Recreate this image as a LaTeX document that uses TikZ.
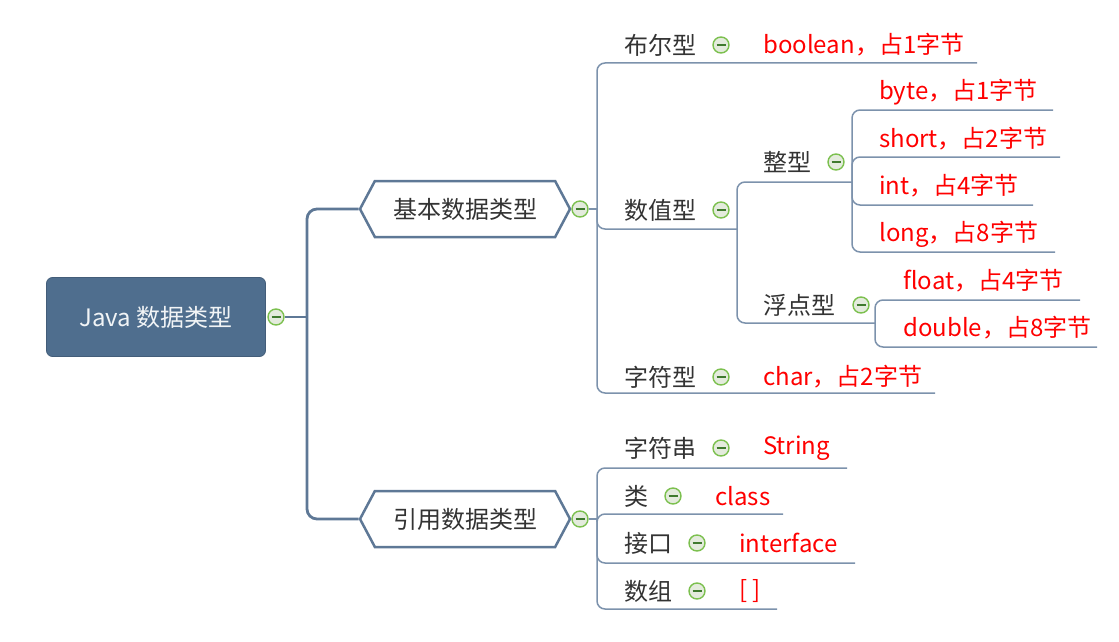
\documentclass[tikz,border=0pt]{standalone}
\usepackage{fontspec}
\setmainfont{Noto Sans CJK SC}
\usetikzlibrary{shapes.symbols}
\definecolor{rootblue}{HTML}{4F6E8E}
\definecolor{trunkblue}{HTML}{5E7896}
\definecolor{branchblue}{HTML}{7C92AC}
\definecolor{labelgray}{HTML}{333333}
\definecolor{foldgreen}{HTML}{7CC04F}
\definecolor{foldfill}{HTML}{E4EBDD}
\definecolor{foldminus}{HTML}{3F7A2E}
\tikzset{
  root/.style={rounded corners=6, fill=rootblue, draw=rootblue!85!black, line width=0.8,
    minimum width=219, minimum height=79, text=white!92!rootblue, font=\fontsize{24}{29}\selectfont},
  hexa/.style={signal, signal to=west and east, signal pointer angle=124, draw=trunkblue,
    line width=2.5, fill=white, minimum width=210, minimum height=56, inner xsep=0,
    text=labelgray, font=\fontsize{24}{29}\selectfont},
  topic/.style={anchor=west, inner sep=0, text=labelgray, font=\fontsize{24}{29}\selectfont},
  val/.style={topic, text=red},
  fold/.style={circle, draw=foldgreen, fill=foldfill, line width=1.4, minimum size=16, inner sep=0,
    path picture={\draw[foldminus, line width=1.5] ([xshift=-4.5]path picture bounding box.center)
      -- ([xshift=4.5]path picture bounding box.center);}},
  trunk/.style={trunkblue, line width=2.8},
  branch/.style={branchblue, line width=1.5, rounded corners=8}
}
\begin{document}
\begin{tikzpicture}[x=1pt,y=-1pt]
   \useasboundingbox (0,0) rectangle (1119,642);
   % root and the two hexagons
   \node[root] (java) at (156,317) {Java 数据类型};
   \node[hexa] (basic) at (465,209) {基本数据类型};
   \node[hexa] (refer) at (465,519) {引用数据类型};
   \node[fold] (f0) at (276,317) {};
   \node[fold] (f1) at (580,209) {};
   \node[fold] (f2) at (580,519) {};
   \coordinate (trunk) at (307,317);
   \draw[trunk] (f0) -- (trunk);
   \draw[trunk, rounded corners=10] (basic.west) -- (basic.west -| trunk) |- (refer.west);

   % basic types
   \coordinate (hub1) at (597,209);
   \coordinate (hub2) at (737,229);
   \coordinate (hub3) at (852,182);
   \coordinate (hub4) at (875,323);
   \draw[branch] (f1) -- (hub1);
   \coordinate (bool) at (977,63);
   \coordinate (chr) at (935,393);
   \draw[branch] (hub1) |- (bool);
   \draw[branch] (hub1) |- (hub2);
   \draw[branch] (hub1) |- (chr);
   \draw[branch] (hub2) |- (hub3);
   \draw[branch] (hub2) |- (hub4);
   \foreach \n/\y/\e in {byte/110/1053, short/157/1060, int/205/1033, long/252/1055, float/300/1080, double/347/1097}
      \coordinate (\n) at (\e,\y);
   \foreach \n in {byte,short,int,long}
      \draw[branch] (hub3) |- (\n);
   \foreach \n in {float,double}
      \draw[branch] (hub4) |- (\n);

   \node[topic] (t1) at (624,45) {布尔型};
   \node[fold] at (721,45) {};
   \node[val] (v1) at (763,45) {boolean，占1字节};
   \node[topic] (t2) at (624,210) {数值型};
   \node[fold] at (721,210) {};
   \node[topic] (t3) at (763,162) {整型};
   \node[fold] at (836,162) {};
   \node[val] (v2) at (879,92) {byte，占1字节};
   \node[val] (v3) at (879,139) {short，占2字节};
   \node[val] (v4) at (879,186) {int，占4字节};
   \node[val] (v5) at (879,234) {long，占8字节};
   \node[topic] (t4) at (763,305) {浮点型};
   \node[fold] at (861,305) {};
   \node[val] (v6) at (903,281) {float，占4字节};
   \node[val] (v7) at (903,328) {double，占8字节};
   \node[topic] (t5) at (624,377) {字符型};
   \node[fold] at (721,377) {};
   \node[val] (v8) at (763,377) {char，占2字节};

   % reference types
   \coordinate (hub5) at (597,519);
   \draw[branch] (f2) -- (hub5);
   \foreach \n/\y/\e in {str/468/847, cls/514/783, ifc/563/855, arr/609/777}
      \draw[branch] (hub5) |- (\e,\y) coordinate (\n);

   \node[topic] (t6) at (624,448) {字符串};
   \node[fold] at (721,448) {};
   \node[val] (v9) at (763,448) {String};
   \node[topic] (t7) at (624,496) {类};
   \node[fold] at (673,496) {};
   \node[val] (v10) at (715,496) {class};
   \node[topic] (t8) at (624,543) {接口};
   \node[fold] at (697,543) {};
   \node[val] (v11) at (739,543) {interface};
   \node[topic] (t9) at (624,591) {数组};
   \node[fold] at (697,591) {};
   \node[val] (v12) at (739,591) {[ ]};
 \end{tikzpicture}
\end{document}
